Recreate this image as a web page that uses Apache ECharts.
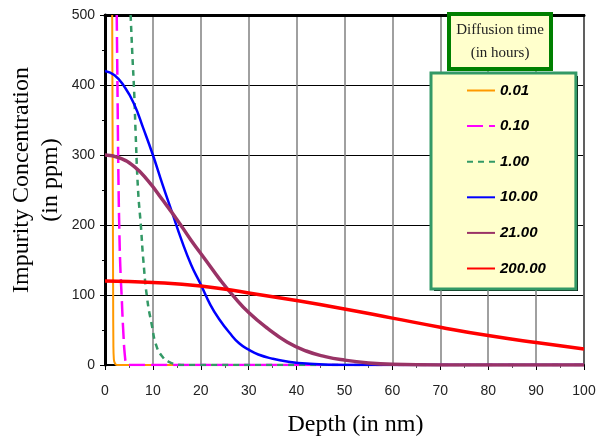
<!DOCTYPE html>
<html>
<head>
<meta charset="utf-8">
<script src="https://cdn.jsdelivr.net/npm/echarts@6/dist/echarts.min.js"></script>
<style>
html, body { margin: 0; padding: 0; background: #fff; }
#chart { width: 600px; height: 436px; }
</style>
</head>
<body>
<div id="chart"></div>
<script>
// diffusion times (hours) -> legend labels
var seriesNames = ['0.01', '0.10', '1.00', '10.00', '21.00', '200.00'];
var seriesColors = ['#ff9900', '#ff00ff', '#339966', '#0000ff', '#993366', '#ff0000'];

// [depth nm, concentration ppm]
var curve001 = [[1.5, 500], [1.55, 400], [1.6, 300], [1.65, 200], [1.7, 100], [1.75, 30], [1.85, 8], [2.1, 2], [2.5, 0], [100, 0]];
var curve010 = [[2.45, 500], [2.6, 400], [2.8, 270], [3.0, 190], [3.2, 140], [3.5, 95], [3.8, 50], [4.2, 10], [4.5, 2], [5, 0], [100, 0]];
var curve100 = [[5.35, 500], [5.7, 445], [6.1, 388], [6.4, 330], [6.9, 250], [7.5, 198], [8.0, 150], [8.8, 95], [9.75, 58], [10.8, 26], [12.2, 10], [13.2, 5], [14.2, 2], [16, 0], [100, 0]];
var curve1000 = [[0, 420], [2, 414], [4, 398], [6, 374], [8, 338], [10, 300], [12, 258], [14, 218], [16, 178], [18, 143], [20, 115], [22, 86], [24, 64], [26, 46], [28, 31], [30, 22], [32, 15], [35, 9], [38, 5], [42, 2], [50, 0], [100, 0]];
var curve2100 = [[0, 300], [3, 296], [6, 284], [9, 263], [12, 236], [15, 208], [18, 178], [21, 150], [24, 122], [27, 97], [30, 75], [34, 52], [38, 33], [42, 20], [46, 12], [50, 7], [55, 3], [60, 1], [70, 0], [100, 0]];
var curve20000 = [[0, 120], [10, 118], [20, 113], [30, 103], [40, 92], [50, 80], [60, 67], [70, 54], [80, 42], [90, 32], [100, 23]];

var curves = [curve001, curve010, curve100, curve1000, curve2100, curve20000];
var lineWidths = [2, 2.5, 2.5, 2.5, 3.5, 3.5];
var lineTypes = ['solid', [16, 6], [6, 5], 'solid', 'solid', 'solid'];

var chart = echarts.init(document.getElementById('chart'));

var series = [];
for (var i = 0; i < curves.length; i++) {
    series.push({
        name: seriesNames[i],
        type: 'line',
        data: curves[i],
        smooth: 0.5,
        symbol: 'none',
        clip: true,
        color: seriesColors[i],
        lineStyle: {color: seriesColors[i], width: lineWidths[i], type: lineTypes[i]}
    });
}

var option = {
    animation: false,
    // dark drop shadow behind the legend box
    graphic: [{
        type: 'rect',
        left: 434,
        top: 76,
        shape: {width: 144, height: 215},
        style: {fill: '#000'},
        z: 0
    }],
    title: {
        text: 'Diffusion time\n(in hours)',
        left: 493,
        top: 14,
        textAlign: 'center',
        padding: [5, 7, 4, 7],
        backgroundColor: '#ffffcc',
        borderColor: '#008000',
        borderWidth: 4,
        textStyle: {
            fontFamily: 'Liberation Serif',
            fontWeight: 'normal',
            fontSize: 15,
            lineHeight: 23,
            color: '#222'
        }
    },
    legend: {
        orient: 'vertical',
        left: 431,
        top: 73,
        data: seriesNames,
        selectedMode: false,
        itemWidth: 28,
        itemHeight: 14,
        itemGap: 20.6,
        padding: [10, 30, 13, 35],
        backgroundColor: '#ffffcc',
        borderColor: '#339966',
        borderWidth: 3,
        itemStyle: {opacity: 0},
        textStyle: {
            fontFamily: 'Liberation Sans',
            fontStyle: 'italic',
            fontWeight: 'bold',
            fontSize: 15,
            color: '#000'
        }
    },
    grid: {
        left: 105,
        right: 16,
        top: 15,
        bottom: 71,
        outerBoundsMode: 'none',
        show: true,
        borderColor: '#000',
        borderWidth: 2
    },
    xAxis: [
        {
            type: 'value',
            min: 0,
            max: 100,
            interval: 10,
            name: 'Depth (in nm)',
            nameLocation: 'middle',
            nameGap: 48,
            nameMoveOverlap: false,
            nameTextStyle: {fontFamily: 'Liberation Serif', fontSize: 24, color: '#000', padding: [0, 0, 0, 22]},
            axisLine: {lineStyle: {color: '#000', width: 2}},
            axisTick: {length: 5, lineStyle: {color: '#000'}},
            minorTick: {show: true, splitNumber: 2, length: 3, lineStyle: {color: '#555'}},
            axisLabel: {margin: 19, fontFamily: 'Liberation Sans', fontSize: 14, color: '#222'},
            splitLine: {lineStyle: {color: '#808080', width: 1.5}}
        },
        {
            type: 'value',
            position: 'top',
            min: 0,
            max: 100,
            axisLine: {lineStyle: {color: '#000', width: 3}},
            axisTick: {show: false},
            axisLabel: {show: false},
            splitLine: {show: false}
        }
    ],
    yAxis: {
        type: 'value',
        min: 0,
        max: 500,
        interval: 100,
        name: 'Impurity Concentration\n(in ppm)',
        nameLocation: 'middle',
        nameGap: 40,
        nameMoveOverlap: false,
        nameTextStyle: {fontFamily: 'Liberation Serif', fontSize: 24, lineHeight: 29, color: '#000', padding: [0, 0, 0, 20]},
        axisLine: {show: true, lineStyle: {color: '#000', width: 3}},
        axisTick: {show: true, length: 5, lineStyle: {color: '#000'}},
        minorTick: {show: true, splitNumber: 2, length: 3, lineStyle: {color: '#000'}},
        axisLabel: {margin: 10, fontFamily: 'Liberation Sans', fontSize: 14, color: '#222'},
        splitLine: {lineStyle: {color: '#000', width: 1}}
    },
    series: series
};

chart.setOption(option);
</script>
</body>
</html>
